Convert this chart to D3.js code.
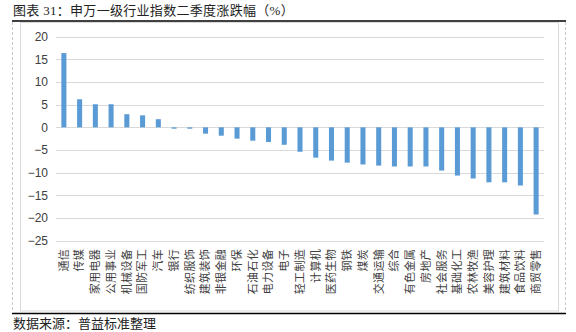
<!DOCTYPE html>
<html><head><meta charset="utf-8">
<script src="https://cdn.jsdelivr.net/npm/d3@7"></script>
<style>
html,body{margin:0;padding:0;background:#fff;}
svg{display:block;}
</style>
</head><body>
<svg id="c" width="576" height="332"></svg>
<script>
const categories = ["通信","传媒","家用电器","公用事业","机械设备","国防军工","汽车","银行","纺织服饰","建筑装饰","非银金融","环保","石油石化","电力设备","电子","轻工制造","计算机","医药生物","钢铁","煤炭","交通运输","综合","有色金属","房地产","社会服务","基础化工","农林牧渔","美容护理","建筑材料","食品饮料","商贸零售"];
const values = [16.4,6.2,5.1,5.1,2.9,2.65,1.8,-0.3,-0.3,-1.4,-1.85,-2.5,-2.95,-3.25,-3.85,-5.4,-6.7,-7.35,-7.8,-8.2,-8.45,-8.65,-8.65,-8.65,-9.55,-10.65,-11.3,-12.15,-12.15,-12.85,-19.25];
const yTicks = [20,15,10,5,0,-5,-10,-15,-20,-25];
const title = "图表 31：申万一级行业指数二季度涨跌幅（%）";
const source = "数据来源：普益标准整理";

const svg = d3.select("#c");
const serifCJK = "'Liberation Serif','Noto Sans CJK SC',serif";

// outer decorations
svg.append("text").attr("x",13).attr("y",15).attr("font-family",serifCJK)
  .attr("font-size",13).attr("letter-spacing",0.3).attr("fill","#222").text(title);
svg.append("line").attr("x1",12).attr("x2",566).attr("y1",21).attr("y2",21)
  .attr("stroke","#000").attr("stroke-width",1.5);
svg.append("line").attr("x1",12).attr("x2",566).attr("y1",313.5).attr("y2",313.5)
  .attr("stroke","#000").attr("stroke-width",1.5);
[12.5,565.5].forEach(x=>svg.append("line").attr("x1",x).attr("x2",x).attr("y1",22).attr("y2",313)
  .attr("stroke","#c8c8c8").attr("stroke-dasharray","3,2"));
svg.append("rect").attr("x",20.5).attr("y",22.5).attr("width",538).attr("height",288.5)
  .attr("fill","none").attr("stroke","#d9d9d9");
svg.append("text").attr("x",13).attr("y",327.5).attr("font-family",serifCJK)
  .attr("font-size",13).attr("fill","#222").text(source);

// scales
const x = d3.scaleBand().domain(categories).range([56,544]).paddingInner(0.68).paddingOuter(0.34);
const y = d3.scaleLinear().domain([-25,20]).range([240.5,36.8]);

// gridlines
svg.append("g").selectAll("line").data(yTicks).join("line")
  .attr("x1",56).attr("x2",544)
  .attr("y1",d=>Math.round(y(d))+0.5).attr("y2",d=>Math.round(y(d))+0.5)
  .attr("stroke","#d9d9d9").attr("stroke-width",1);

// y axis
const yAxis = d3.axisLeft(y).tickValues(yTicks).tickSize(0).tickPadding(0)
  .tickFormat(d=>d<0?"\u2212"+Math.abs(d):String(d));
const ga = svg.append("g").attr("transform","translate(48,0)").call(yAxis);
ga.select(".domain").remove();
ga.selectAll("text").attr("font-family","'Liberation Sans',Arial,sans-serif")
  .attr("font-size",12).attr("fill","#404040");

// bars
svg.append("g").selectAll("rect").data(values).join("rect")
  .attr("x",(d,i)=>x(categories[i]))
  .attr("width",x.bandwidth())
  .attr("y",d=>y(Math.max(0,d)))
  .attr("height",d=>Math.abs(y(d)-y(0)))
  .attr("fill","#5b9bd5");

// category labels (rotated)
svg.append("g").selectAll("text").data(categories).join("text")
  .attr("transform",d=>`translate(${x(d)+x.bandwidth()/2},249) rotate(-90)`)
  .attr("text-anchor","end").attr("dy","0.35em")
  .attr("font-family","'Noto Sans CJK SC',sans-serif").attr("font-size",11)
  .attr("letter-spacing",0.3)
  .attr("fill","#404040").text(d=>d);
</script>
</body></html>
